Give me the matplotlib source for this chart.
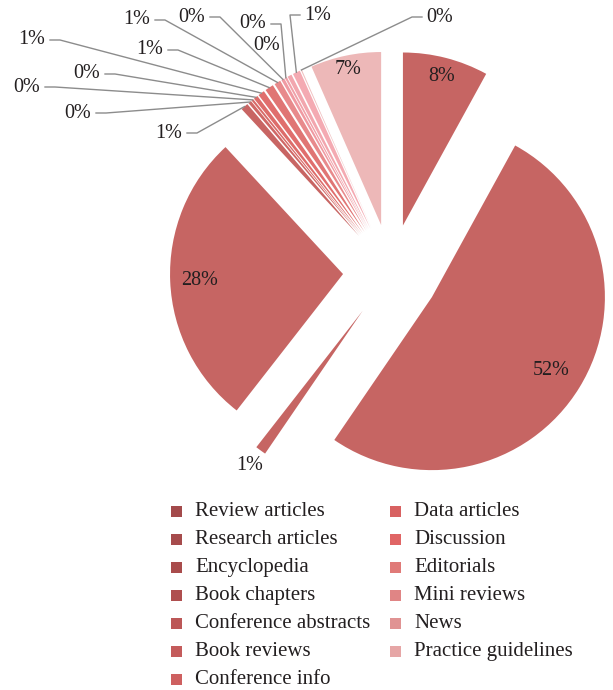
import numpy as np
import matplotlib
matplotlib.use("Agg")
import matplotlib.pyplot as plt
from matplotlib.patches import Rectangle

plt.rcParams["font.family"] = ["Liberation Serif", "DejaVu Serif"]

# share of each document type (percent), clockwise from 12 o'clock
values = [8.0, 51.6, 1.0, 27.6, 0.7, 0.3, 0.2, 0.4, 0.6, 0.8,
          0.6, 0.3, 0.2, 0.4, 0.7, 0.1, 6.6]

legend_names = ["Review articles", "Research articles", "Encyclopedia",
                "Book chapters", "Conference abstracts", "Book reviews",
                "Conference info", "Data articles", "Discussion",
                "Editorials", "Mini reviews", "News", "Practice guidelines"]
legend_colors = ["#A34A4B", "#A64B4C", "#A94C4C", "#AF4F4F", "#BC5757",
                 "#C45B5B", "#CE6060", "#D86161", "#E06565", "#E07A78",
                 "#E08585", "#E09393", "#E6A6A6"]

slice_colors = ["#C66563", "#C66563", "#C66563", "#C66563", "#C86563",
                "#D06866", "#D86A68", "#DD6C6A", "#E06E6D", "#E07574",
                "#E88A8C", "#F09AA2", "#F0A0A8", "#F2A6AE", "#F4AAB2",
                "#F0C0C0", "#EDB8B8"]

W, H = 613, 690
R = 173
CX, CY = 391, H - 272

fig = plt.figure(figsize=(W / 100, H / 100), dpi=100)
ax = fig.add_axes([0, 0, 1, 1])

wedges, _ = ax.pie(values, colors=slice_colors, startangle=90,
                   counterclock=False, radius=R, center=(CX, CY),
                   explode=[48] * len(values),
                   wedgeprops=dict(linewidth=0))
ax.set_xlim(0, W)
ax.set_ylim(0, H)
ax.set_aspect("equal")
ax.axis("off")

labels = ["%.0f%%" % v for v in values]
FS = 14.5
txt = dict(fontsize=FS, color="#231F20", ha="center", va="center")


def point_on(w, frac):
    mid = np.deg2rad((w.theta1 + w.theta2) / 2)
    return (w.center[0] + frac * w.r * np.cos(mid),
            w.center[1] + frac * w.r * np.sin(mid))


# labels inside the big slices (radial fraction) and outside the 1% sliver
inside = {0: 0.89, 1: 0.81, 3: 0.83, 16: 0.92, 2: 1.11}
for i, f in inside.items():
    x, y = point_on(wedges[i], f)
    ax.text(x, y, labels[i], **txt)

# small slices: label spots (image pixels) with leader lines
small_idx = [4, 5, 6, 7, 8, 9, 10, 11, 12, 13, 14, 15]
small_pos = [(169, 133), (78, 113), (27, 87), (87, 74), (32, 40), (150, 50),
             (137, 20), (192, 17), (253, 24), (267, 45), (318, 15), (440, 17)]

for i, (lx, ly) in zip(small_idx, small_pos):
    ly = H - ly
    ax.text(lx, ly, labels[i], **txt)
    tx, ty = point_on(wedges[i], 1.0)
    if np.hypot(tx - lx, ty - ly) < 45:
        continue
    if lx < tx - 25:
        xs = [lx + 18, lx + 28, tx]
    else:
        xs = [lx - 18, lx - 28, tx]
    ax.plot(xs, [ly, ly, ty], color="#8C8C8C", lw=1.0)

# legend, two columns filled top to bottom
for k, (name, c) in enumerate(zip(legend_names, legend_colors)):
    col, row = divmod(k, 7)
    x0 = 171 + col * 219
    y0 = H - (511 + row * 28.1)
    ax.add_patch(Rectangle((x0, y0 - 5.5), 11, 11, facecolor=c,
                           edgecolor="none"))
    ax.text(x0 + 24, y0, name, fontsize=15, color="#231F20",
            ha="left", va="center")

plt.savefig("out.png", dpi=100)
plt.close()
